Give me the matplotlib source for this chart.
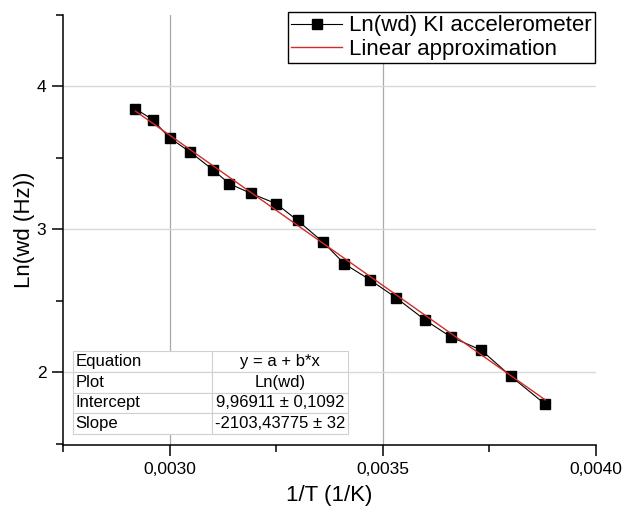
import matplotlib
matplotlib.use("Agg")
import matplotlib.pyplot as plt
import numpy as np
from matplotlib.ticker import FuncFormatter, MultipleLocator

# Datos
inv_T = [0.002920, 0.002960, 0.003000, 0.003049, 0.003101, 0.003140,
         0.003191, 0.003250, 0.003300, 0.003360, 0.003410, 0.003470,
         0.003531, 0.003600, 0.003660, 0.003731, 0.003800, 0.003881]
ln_wd = [3.843, 3.768, 3.640, 3.539, 3.418, 3.319,
         3.251, 3.179, 3.062, 2.910, 2.758, 2.646,
         2.521, 2.363, 2.246, 2.154, 1.972, 1.775]

# Parametros del ajuste (tabla)
intercepto = 9.96911
pendiente = -2103.43775

filas_tabla = [["Equation", "y = a + b*x"],
               ["Plot", "Ln(wd)"],
               ["Intercept", "9,96911 \u00b1 0,1092"],
               ["Slope", "-2103,43775 \u00b1 32"]]

plt.rcParams['font.family'] = ['Liberation Sans', 'DejaVu Sans']

fig = plt.figure(figsize=(6.24, 5.13), dpi=100)
ax = fig.add_axes([63/624, 1 - 445/513, 533/624, 430/513])

ax.set_xlim(0.00275, 0.0040)
ax.set_ylim(1.49, 4.5)

# Rejilla
for v in [0.0030, 0.0035]:
    ax.axvline(v, color='#a8a8a8', lw=0.9, zorder=0)
for v in [2, 3, 4]:
    ax.axhline(v, color='#d8d8d8', lw=1.0, zorder=0)

x = np.array(inv_T)
ax.plot(x, ln_wd, color='black', lw=0.8, marker='s', markersize=7.8,
        label='Ln(wd) KI accelerometer', zorder=3)
xx = np.array([x[0], x[-1]])
ax.plot(xx, intercepto + pendiente * xx, color='#d42a2a', lw=1.0,
        label='Linear approximation', zorder=4)

# Ejes estilo Origin
ax.spines['top'].set_visible(False)
ax.spines['right'].set_visible(False)
for s in ['left', 'bottom']:
    ax.spines[s].set_linewidth(1.1)

ax.xaxis.set_major_locator(MultipleLocator(0.0005))
ax.xaxis.set_minor_locator(MultipleLocator(0.00025))
ax.yaxis.set_major_locator(MultipleLocator(1))
ax.yaxis.set_minor_locator(MultipleLocator(0.5))
ax.xaxis.set_major_formatter(FuncFormatter(lambda v, p: f"{v:.4f}".replace('.', ',')))
ax.yaxis.set_major_formatter(FuncFormatter(lambda v, p: f"{v:.0f}"))
ax.tick_params(which='major', direction='out', length=8, width=1.1, labelsize=12.5, pad=4)
ax.tick_params(which='minor', direction='out', length=5, width=1.1)

ax.set_xlabel('1/T (1/K)', fontsize=16, labelpad=6)
ax.set_ylabel('Ln(wd (Hz))', fontsize=16, labelpad=1)

leg = ax.legend(loc='upper right', bbox_to_anchor=(595/624, 1 - 12/513),
                bbox_transform=fig.transFigure, fontsize=16, handlelength=2.3,
                handletextpad=0.3, borderpad=0.15, labelspacing=0.1,
                borderaxespad=0, fancybox=False, framealpha=1)
leg.get_frame().set_edgecolor('black')
leg.get_frame().set_linewidth(1.0)

# Tabla con resultados del ajuste
tabla = ax.table(cellText=filas_tabla, cellLoc='left',
                 bbox=[10/533, (445-434)/430, 275/533, 83/430], zorder=5)
tabla.auto_set_font_size(False)
tabla.set_fontsize(12)
for (r, c), celda in tabla.get_celld().items():
    celda.set_edgecolor('#d0d0d0')
    celda.set_linewidth(0.8)
    celda.set_facecolor('white')
    celda.PAD = 0.02
    if c == 0:
        celda.set_width(139/533)
    else:
        celda.set_width(136/533)
        celda.get_text().set_ha('center')
        celda._loc = 'center'

fig.savefig('out.png', dpi=100)
